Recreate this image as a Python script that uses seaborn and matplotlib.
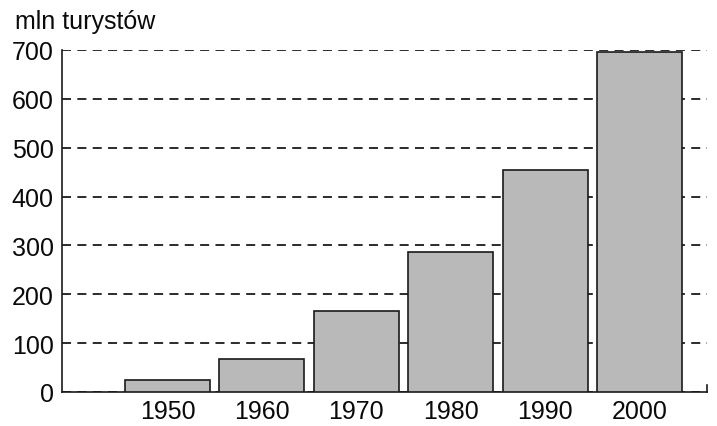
import matplotlib
matplotlib.use("Agg")
import matplotlib.pyplot as plt
import seaborn as sns
import pandas as pd

years = ["1950", "1960", "1970", "1980", "1990", "2000"]
tourists = [24, 68, 165, 287, 455, 695]
y_ticks = [0, 100, 200, 300, 400, 500, 600, 700]
y_label = "mln turystów"

sns.set_theme(style="white")
plt.rcParams['font.family'] = ['Liberation Sans Narrow', 'Liberation Sans', 'DejaVu Sans']

df = pd.DataFrame({"rok": years, "turysci": tourists})

fig = plt.figure(figsize=(7.17, 4.27), dpi=100)
ax = fig.add_axes([62/717, 1 - 393/427, (707 - 62)/717, (393 - 51)/427])

sns.barplot(data=df, x="rok", y="turysci", order=years, color="#b9b9b9",
            edgecolor="#1a1a1a", linewidth=1.2, width=0.9, saturation=1, ax=ax, zorder=3)

ax.set_xlim(-1.117, 5.715)
ax.set_ylim(0, 700)
ax.set_yticks(y_ticks)
ax.set_yticklabels([str(v) for v in y_ticks])
ax.yaxis.grid(True, linestyle=(0, (5, 3.5)), color="#1a1a1a", linewidth=1.3, zorder=0)
ax.xaxis.grid(False)
ax.set_axisbelow(True)

ax.set_xlabel("")
ax.set_ylabel("")
ax.tick_params(axis="both", length=0, labelsize=18, colors="#0a0a0a")
ax.tick_params(axis="y", pad=6)
ax.tick_params(axis="x", pad=5)

ax.spines["top"].set_visible(False)
for s in ["left", "bottom"]:
    ax.spines[s].set_color("#1a1a1a")
    ax.spines[s].set_linewidth(1.2)
ax.spines["right"].set_color("#1a1a1a")
ax.spines["right"].set_linewidth(1.2)
ax.spines["right"].set_bounds(0, 15)

fig.text(15/717, 1 - 29/427, y_label, fontsize=18, color="#0a0a0a",
         ha="left", va="baseline")

fig.savefig("out.png", dpi=100, facecolor="white")
